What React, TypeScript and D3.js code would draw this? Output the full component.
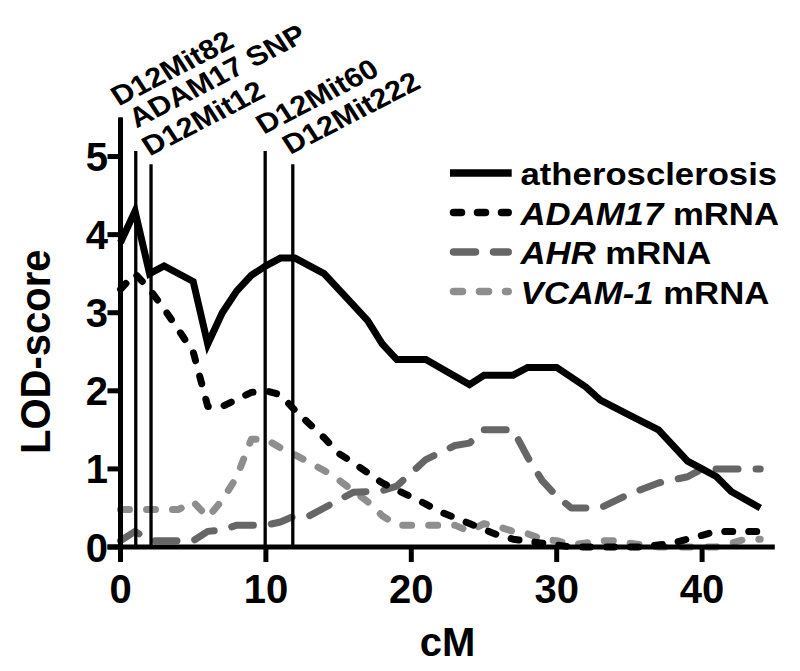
import React from 'react';
import * as d3 from 'd3';

// ---- data ----
const xTicks = [0, 10, 20, 30, 40];
const yTicks = [0, 1, 2, 3, 4, 5];

const atheroCM = [0, 1, 2, 3, 5, 6, 7, 8, 9, 10, 11, 12, 14, 16, 17, 18, 19, 21, 24, 25, 27, 28, 30, 32, 33, 35, 37, 39, 40, 41, 42, 44];
const atheroLOD = [3.9, 4.3, 3.5, 3.6, 3.4, 2.6, 3.0, 3.28, 3.48, 3.6, 3.7, 3.7, 3.5, 3.1, 2.9, 2.6, 2.4, 2.4, 2.08, 2.2, 2.2, 2.3, 2.3, 2.05, 1.88, 1.69, 1.5, 1.1, 1.0, 0.9, 0.71, 0.5];

const adamCM = [0, 1, 2, 3, 5, 6, 7, 9, 10, 11, 12, 14, 15, 16, 18, 19, 21, 22, 24, 26, 27, 29, 31, 36, 38, 39, 41, 44];
const adamLOD = [3.3, 3.5, 3.3, 3.05, 2.5, 1.8, 1.8, 1.98, 2.0, 1.95, 1.75, 1.4, 1.2, 1.08, 0.82, 0.73, 0.55, 0.45, 0.3, 0.15, 0.1, 0.05, 0.0, 0.0, 0.05, 0.1, 0.2, 0.2];

const ahrCM = [0, 1, 2, 5, 6, 7, 8, 10, 11, 12, 13, 15, 16, 18, 19, 20, 21, 23, 24, 25, 27, 28, 29, 30, 31, 33, 35, 37, 39, 40, 44];
const ahrLOD = [0.08, 0.2, 0.08, 0.08, 0.2, 0.22, 0.28, 0.28, 0.32, 0.4, 0.4, 0.6, 0.7, 0.72, 0.78, 0.95, 1.12, 1.3, 1.33, 1.5, 1.5, 1.15, 0.85, 0.65, 0.5, 0.5, 0.68, 0.82, 0.9, 1.0, 1.0];

const vcamCM = [0, 4, 5, 6, 7, 8, 9, 10, 11, 12, 14, 15, 16, 17, 18, 19, 23, 24, 25, 26, 27, 28, 29, 30, 31, 32, 33, 34, 35, 37, 41, 42, 43, 44];
const vcamLOD = [0.48, 0.48, 0.58, 0.38, 0.6, 0.9, 1.38, 1.38, 1.27, 1.18, 0.98, 0.86, 0.72, 0.58, 0.4, 0.28, 0.28, 0.2, 0.3, 0.26, 0.2, 0.17, 0.1, 0.08, 0.03, 0.05, 0.08, 0.08, 0.05, 0.0, 0.0, 0.05, 0.1, 0.1];

const markerNames = ['D12Mit82', 'ADAM17 SNP', 'D12Mit12', 'D12Mit60', 'D12Mit222'];
const markerCM = [0, 1.05, 2.1, 9.95, 11.85];
const markerTop = [5.5, 5.07, 4.9, 5.07, 4.9];
const markerLabelCM = [-0.12, 1.1, 2.02, 9.85, 11.68];
const markerLabelLOD = [5.64, 5.36, 5.0, 5.28, 5.02];

const legendItalic = ['', 'ADAM17', 'AHR', 'VCAM-1'];
const legendPlain = ['atherosclerosis', ' mRNA', ' mRNA', ' mRNA'];

const FONT = "'Liberation Sans', Arial, Helvetica, sans-serif";

export default function App() {
  const x = d3.scaleLinear().domain([0, 45]).range([120.5, 774.8]);
  const y = d3.scaleLinear().domain([0, 5.5]).range([547, 117.5]);

  const mkLine = (cm: number[], lod: number[]) =>
    d3.line<number>().x((_, i) => x(cm[i])).y((d) => y(d))(lod) || '';

  const series = [
    { d: mkLine(atheroCM, atheroLOD), stroke: '#000', dash: undefined as string | undefined, cap: 'butt', join: 'miter' },
    { d: mkLine(adamCM, adamLOD), stroke: '#000', dash: '8 16', cap: 'round', join: 'round' },
    { d: mkLine(ahrCM, ahrLOD), stroke: '#666666', dash: '22 18', cap: 'round', join: 'round' },
    { d: mkLine(vcamCM, vcamLOD), stroke: '#8e8e8e', dash: '9 17', cap: 'round', join: 'round' },
  ];
  const drawOrder = [3, 2, 1, 0];

  return (
    <svg width={800} height={671} style={{ position: 'absolute', left: 0, top: 0, background: '#fff' }} fontFamily={FONT} fontWeight="bold">
      <rect x={0} y={0} width={800} height={671} fill="#fff" />
      {/* data lines */}
      {drawOrder.map((i) => {
        const s = series[i];
        return (
          <path key={i} d={s.d} fill="none" stroke={s.stroke} strokeWidth={7}
            strokeDasharray={s.dash} strokeLinecap={s.cap as any} strokeLinejoin={s.join as any} strokeMiterlimit={10} />
        );
      })}
      {/* marker lines */}
      {markerCM.map((c, i) => (
        <line key={'m' + i} x1={x(c)} x2={x(c)} y1={y(markerTop[i])} y2={y(0)} stroke="#000" strokeWidth={3.3} />
      ))}
      {/* marker labels */}
      {markerNames.map((n, i) => (
        <text key={'ml' + i} transform={`translate(${x(markerLabelCM[i])},${y(markerLabelLOD[i])}) scale(1.12,1) rotate(-30)`} fontSize={27.5} fill="#000">
          {n}
        </text>
      ))}
      {/* axes */}
      <line x1={x(0) - 13} x2={x(45)} y1={y(0)} y2={y(0)} stroke="#000" strokeWidth={5} />
      <line x1={x(0)} x2={x(0)} y1={y(0) + 15} y2={y(5.5)} stroke="#000" strokeWidth={5} />
      {xTicks.map((t) => (
        <g key={'xt' + t}>
          <line x1={x(t)} x2={x(t)} y1={y(0)} y2={y(0) + 15} stroke="#000" strokeWidth={5} />
          <text x={x(t)} y={603} textAnchor="middle" fontSize={40} fill="#000">{t}</text>
        </g>
      ))}
      {yTicks.map((t) => (
        <g key={'yt' + t}>
          <line x1={x(0) - 13} x2={x(0)} y1={y(t)} y2={y(t)} stroke="#000" strokeWidth={5} />
          <text x={108} y={y(t) + 14.5} textAnchor="end" fontSize={40} fill="#000">{t}</text>
        </g>
      ))}
      <text x={x(22.5)} y={656} textAnchor="middle" fontSize={40} fill="#000">cM</text>
      <text transform={`translate(50,${(y(0) + y(5)) / 2}) scale(1.08,1) rotate(-90)`} textAnchor="middle" fontSize={40} fill="#000">LOD-score</text>
      {/* legend */}
      {series.map((s, i) => {
        const ry = 173 + i * 39.5;
        return (
          <g key={'lg' + i}>
            {s.dash ? (
              <line x1={453.5} x2={508.2} y1={ry} y2={ry} stroke={s.stroke} strokeWidth={7.5} strokeDasharray={s.dash} strokeLinecap="round" />
            ) : (
              <line x1={450} x2={511.7} y1={ry} y2={ry} stroke={s.stroke} strokeWidth={7.5} />
            )}
            <text transform={`translate(520.5,${ry + 12}) scale(1.12,1)`} fontSize={31} fill="#000">
              {legendItalic[i] ? <tspan fontStyle="italic">{legendItalic[i]}</tspan> : null}
              <tspan>{legendPlain[i]}</tspan>
            </text>
          </g>
        );
      })}
    </svg>
  );
}
